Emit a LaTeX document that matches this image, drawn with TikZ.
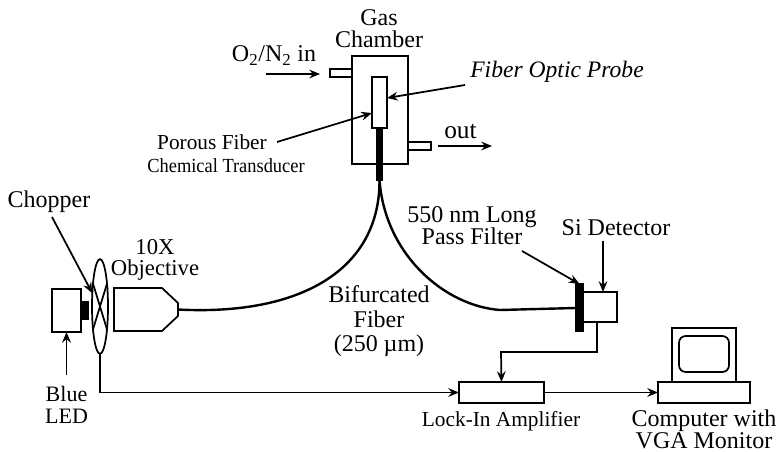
\documentclass[tikz,border=0pt]{standalone}
\usepackage{fontspec}
\setmainfont{Liberation Serif}
\usetikzlibrary{shapes.geometric, arrows.meta, positioning}

\newcommand{\fsz}[2]{\fontsize{#1}{#2}\selectfont}

\begin{document}
\begin{tikzpicture}[
    x=0.75pt, y=-0.75pt,
    part/.style n args={2}{draw, line width=1.3pt, inner sep=0pt, outer sep=0pt,
                  minimum width=#1*0.75pt, minimum height=#2*0.75pt},
    blackpart/.style n args={2}{part={#1}{#2}, fill=black},
    txt/.style={inner sep=0pt, outer sep=0pt, align=center, font=\fsz{18}{16.5pt}},
    arrow/.style={-{Stealth[length=8pt, width=6.5pt]}, line width=1.3pt},
    wire/.style={line width=1.3pt},
    fiber/.style={line width=1.8pt}
]
\useasboundingbox (0,0) rectangle (778,452);

% gas chamber
\node[part={56}{108}] (chamber) at (380,110) {};
\node[part={22}{8}, anchor=east] (intube) at (chamber.west |- 0,73) {};
\node[part={23}{8}, anchor=west] (outtube) at (chamber.east |- 0,146) {};
\node[part={15}{51}] (probe) at (379.5,102.5) {};
\node[blackpart={6}{52}, anchor=north] (bundle) at (probe.south) {};

% source side
\node[part={29}{43}] (led) at (66.5,310.5) {};
\node[blackpart={7}{18}, anchor=west] (lens) at (led.east) {};
\node[draw, ellipse, line width=1.3pt, inner sep=0pt, outer sep=0pt,
      minimum width=12pt, minimum height=71pt] (chopper) at (100,306.5) {};
\draw[wire] (chopper.73) -- (chopper.253);
\draw[wire] (chopper.107) -- (chopper.287);
\draw[wire] (178,303) -- (162,288) -- (114,288) -- (114,331) -- (162,331) -- (178,316) -- cycle;
\coordinate (objtip) at (178,309.5);

% detector side
\node[part={34}{30}] (detector) at (600,307) {};
\node[blackpart={8}{47}] (filter) at (579.5,307.5) {};
\node[part={85}{21}] (lockin) at (501.5,392.5) {};
\node[part={92}{21}] (computer) at (704,392.5) {};
\node[part={64}{54}, anchor=south] (monitor) at (computer.north) {};
\node[draw, line width=1.3pt, rounded corners=5pt, inner sep=0pt,
      minimum width=37.5pt, minimum height=27pt] (screen) at (704,354) {};

% labels
\node[txt] (lblgas) at (379,28.5) {Gas\\Chamber};
\node[txt, anchor=base] (lblin) at (274,62) {O\textsubscript{2}/N\textsubscript{2} in};
\node[txt, font=\fsz{17.7}{17.7pt}\itshape, anchor=base] (lblprobe) at (557,78) {Fiber Optic Probe};
\node[txt, font=\fsz{19}{19pt}, anchor=base] (lblout) at (460.5,139) {out};
\node[txt, font=\fsz{16}{16pt}, anchor=base] (lblporous) at (212,150) {Porous Fiber};
\node[txt, font=\fsz{15}{15pt}, anchor=base] (lbltrans) at (226,173) {\scalebox{0.92}[1]{Chemical Transducer}};
\node[txt, anchor=base] (lblchopper) at (49,208) {Chopper};
\node[txt, font=\fsz{17}{15.75pt}] (lblobj) at (155,259.5) {10X\\Objective};
\node[txt, font=\fsz{16.5}{16.5pt}] (lblled) at (66.5,404.5) {Blue\\LED};
\node[txt, font=\fsz{18}{18.4pt}] (lblbif) at (379,321.5) {Bifurcated\\Fiber\\(250 µm)};
\node[txt] (lblfilter) at (472,226) {550 nm Long\\Pass Filter};
\node[txt, anchor=base] (lbldet) at (616,236) {Si Detector};
\node[txt, font=\fsz{16}{16pt}, anchor=base] (lbllockin) at (501,426) {Lock-In Amplifier};
\node[txt] (lblcomp) at (704,429) {Computer with\\VGA Monitor};

% free arrow ends
\coordinate (intail) at (266,74);
\coordinate (inhead) at (320,74);
\coordinate (outtail) at (438,146);
\coordinate (outhead) at (492,146);
\coordinate (probetail) at (465,85);
\coordinate (transtail) at (277,142);
\coordinate (choppertail) at (52,217);
\coordinate (ledtail) at (66.5,375);
\coordinate (filtertail) at (522,251);
\coordinate (dettail) at (603,241);

\draw[arrow] (intail) -- (inhead);
\draw[arrow] (outtail) -- (outhead);
\draw[arrow] (probetail) -- (probe.east |- 0,98);
\draw[arrow] (transtail) -- (probe.west |- 0,113);
\draw[arrow] (choppertail) -- (chopper.120);
\draw[arrow] (ledtail) -- (led.south);
\draw[arrow] (filtertail) -- (filter.north);
\draw[arrow] (dettail) -- (dettail |- detector.north);
\draw[arrow] (chopper.south) |- (lockin.west);
\draw[arrow] (lockin.east) -- (computer.west);
\draw[arrow] (detector.south -| 597,0) |- (501,352) -- (lockin.north);

\draw[fiber] (bundle.south) .. controls (380,270) and (300,316) .. (objtip);
\draw[fiber] (bundle.south) .. controls (385,255) and (445,306) .. (500,310) -- (filter.west |- 0,308);
\end{tikzpicture}
\end{document}
